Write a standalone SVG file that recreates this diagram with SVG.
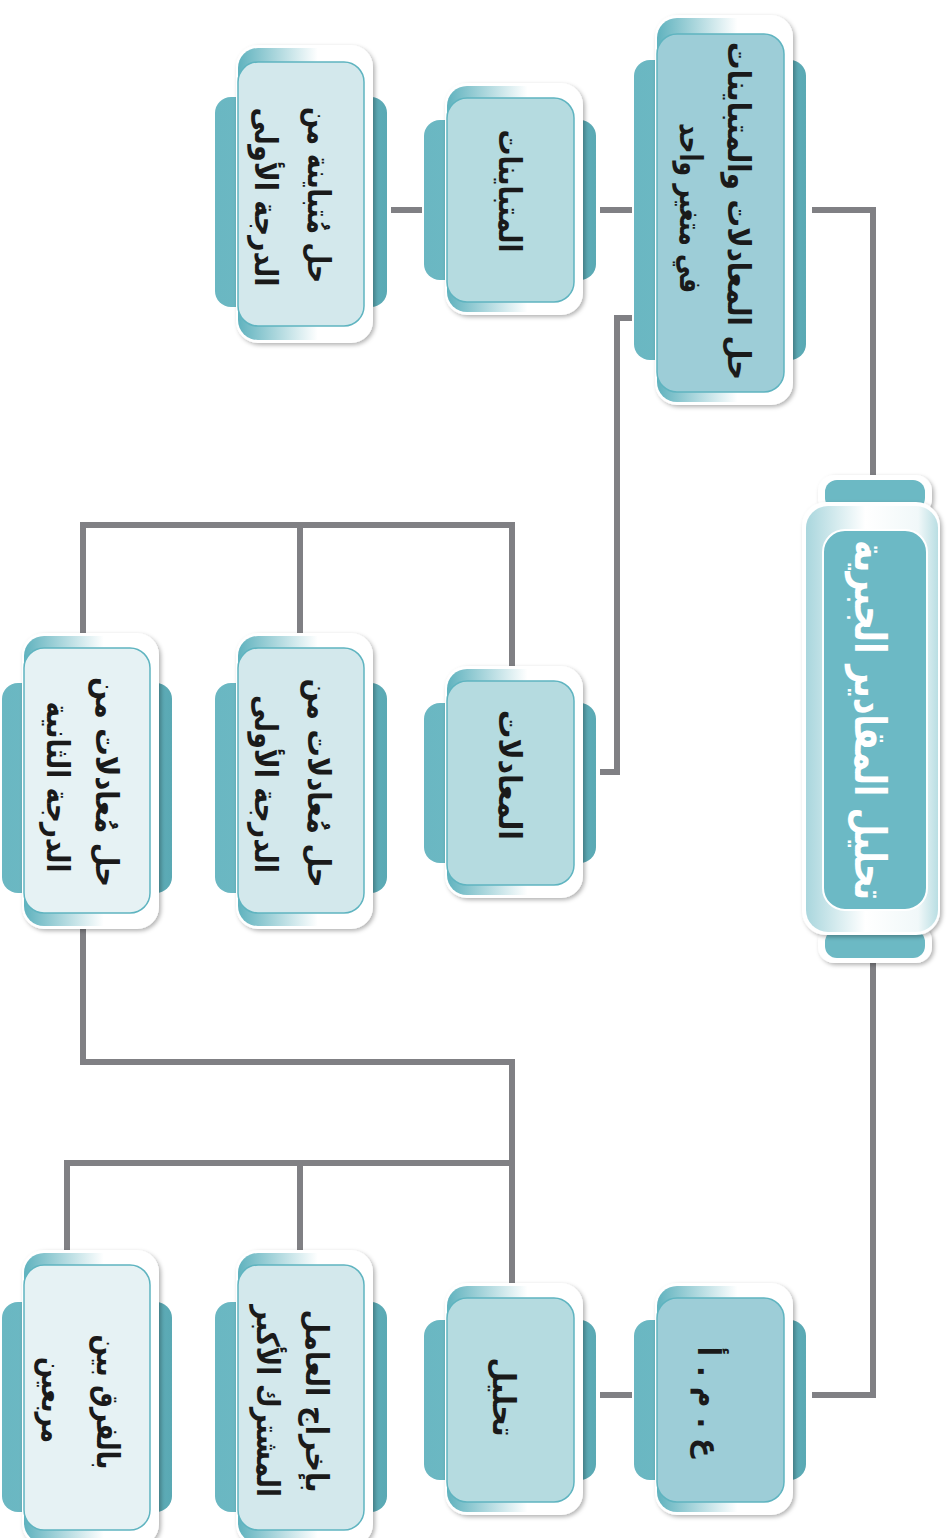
<svg xmlns="http://www.w3.org/2000/svg" width="951" height="1538" viewBox="0 0 951 1538">
<defs>
<linearGradient id="frame" x1="0" y1="0" x2="1" y2="0">
<stop offset="0" stop-color="#5fb2be"/>
<stop offset="0.6" stop-color="#ffffff"/>
<stop offset="1" stop-color="#ffffff"/>
</linearGradient>
<linearGradient id="tab" x1="0" y1="0" x2="1" y2="0">
<stop offset="0" stop-color="#6ab7c2"/>
<stop offset="0.5" stop-color="#6fbac4"/>
<stop offset="1" stop-color="#5aa9b4"/>
</linearGradient>
<linearGradient id="rootbody" x1="0" y1="0" x2="1" y2="0">
<stop offset="0" stop-color="#a9d6dd"/>
<stop offset="0.45" stop-color="#ffffff"/>
<stop offset="0.85" stop-color="#f1f8f9"/>
<stop offset="1" stop-color="#b9dee3"/>
</linearGradient>
<filter id="sh" x="-20%" y="-20%" width="140%" height="140%">
<feDropShadow dx="2" dy="2" stdDeviation="2" flood-color="#000" flood-opacity="0.3"/>
</filter>
</defs>
<style>
.tab{fill:url(#tab)}
.outer{fill:#ffffff;filter:url(#sh)}
.frame{fill:url(#frame)}
.in{stroke:#5fb4c0;stroke-width:1.5}
.l2{fill:#9dcdd7}
.l3{fill:#b5dbe0}
.l4{fill:#d3e8ec}
.l5{fill:#e6f2f4}
.t{font-family:"DejaVu Sans",sans-serif;font-weight:bold;font-size:31px;fill:#1a1a1a;text-anchor:middle}
.rt{font-family:"DejaVu Sans",sans-serif;font-weight:bold;font-size:44px;fill:#ffffff;text-anchor:middle}
.c{fill:none;stroke:#808084;stroke-width:6}
</style>
<rect width="951" height="1538" fill="#ffffff"/>
<g id="connectors">
<path class="c" d="M812 210 H873 V478"/>
<path class="c" d="M873 960 V1395 H812"/>
<path class="c" d="M600 210 H632"/>
<path class="c" d="M391 210 H422"/>
<path class="c" d="M632 318 H617 V772 H600"/>
<path class="c" d="M512 668 V525 M83 635 V525 H515 M300 525 V635"/>
<path class="c" d="M83 926 V1062 H512 V1285"/>
<path class="c" d="M512 1163 H67 V1252 M300 1163 V1252"/>
<path class="c" d="M600 1395 H632"/>
</g>
<g id="root">
<rect x="818" y="475" width="114" height="40" rx="16" class="outer"/>
<rect x="825" y="480" width="100" height="30" rx="12" fill="#6cb9c4"/>
<rect x="818" y="925" width="114" height="38" rx="16" class="outer"/>
<rect x="825" y="930" width="100" height="28" rx="12" fill="#6cb9c4"/>
<rect x="802" y="502" width="138" height="433" rx="24" class="outer"/>
<rect x="806" y="506" width="132" height="426" rx="22" fill="url(#rootbody)"/>
<rect x="823" y="530" width="104" height="380" rx="22" fill="#6cb9c5" stroke="#ffffff" stroke-width="2"/>
<text class="rt" transform="translate(855 720) rotate(90)" textLength="360" lengthAdjust="spacingAndGlyphs">تحليل المقادير الجبرية</text>
</g>
<g id="n-main">
<rect x="634" y="60" width="172" height="300" rx="16" class="tab"/>
<rect x="655" y="15" width="138" height="390" rx="22" class="outer"/>
<rect x="657" y="18" width="134" height="384" rx="20" class="frame"/>
<rect x="657" y="34" width="127" height="358" rx="20" class="in l2"/>
<text class="t" transform="translate(728 211) rotate(90)" textLength="338" lengthAdjust="spacingAndGlyphs">حل المعادلات والمتباينات</text>
<text class="t" transform="translate(680 208) rotate(90)" textLength="170" lengthAdjust="spacingAndGlyphs">في متغير واحد</text>
</g>
<g id="n-gcf">
<rect x="634" y="1320" width="172" height="160" rx="16" class="tab"/>
<rect x="655" y="1283" width="138" height="232" rx="22" class="outer"/>
<rect x="657" y="1286" width="134" height="226" rx="20" class="frame"/>
<rect x="657" y="1298" width="127" height="204" rx="20" class="in l2"/>
<text class="t" transform="translate(698 1402) rotate(90)" font-size="34" textLength="111" lengthAdjust="spacingAndGlyphs">ع . م . أ</text>
</g>
<g id="n-ineq">
<rect x="424" y="120" width="172" height="160" rx="16" class="tab"/>
<rect x="445" y="83" width="138" height="232" rx="22" class="outer"/>
<rect x="447" y="86" width="134" height="226" rx="20" class="frame"/>
<rect x="447" y="98" width="127" height="204" rx="20" class="in l3"/>
<text class="t" transform="translate(499 191) rotate(90)" textLength="123" lengthAdjust="spacingAndGlyphs">المتباينات</text>
</g>
<g id="n-eq">
<rect x="424" y="703" width="172" height="160" rx="16" class="tab"/>
<rect x="445" y="666" width="138" height="232" rx="22" class="outer"/>
<rect x="447" y="669" width="134" height="226" rx="20" class="frame"/>
<rect x="447" y="681" width="127" height="204" rx="20" class="in l3"/>
<text class="t" transform="translate(499 775) rotate(90)" textLength="130" lengthAdjust="spacingAndGlyphs">المعادلات</text>
</g>
<g id="n-fact">
<rect x="424" y="1320" width="172" height="160" rx="16" class="tab"/>
<rect x="445" y="1283" width="138" height="232" rx="22" class="outer"/>
<rect x="447" y="1286" width="134" height="226" rx="20" class="frame"/>
<rect x="447" y="1298" width="127" height="204" rx="20" class="in l3"/>
<text class="t" transform="translate(493 1397) rotate(90)" textLength="79" lengthAdjust="spacingAndGlyphs">تحليل</text>
</g>
<g id="n-ineq1">
<rect x="215" y="97" width="172" height="210" rx="16" class="tab"/>
<rect x="236" y="45" width="137" height="298" rx="22" class="outer"/>
<rect x="238" y="48" width="133" height="292" rx="20" class="frame"/>
<rect x="238" y="62" width="126" height="264" rx="20" class="in l4"/>
<text class="t" transform="translate(308 195) rotate(90)" textLength="176" lengthAdjust="spacingAndGlyphs">حل مُتباينة من</text>
<text class="t" transform="translate(255 197) rotate(90)" textLength="179" lengthAdjust="spacingAndGlyphs">الدرجة الأولى</text>
</g>
<g id="n-eq1">
<rect x="215" y="683" width="172" height="210" rx="16" class="tab"/>
<rect x="236" y="633" width="137" height="296" rx="22" class="outer"/>
<rect x="238" y="636" width="133" height="290" rx="20" class="frame"/>
<rect x="238" y="648" width="126" height="265" rx="20" class="in l4"/>
<text class="t" transform="translate(308 783) rotate(90)" textLength="209" lengthAdjust="spacingAndGlyphs">حل مُعادلات من</text>
<text class="t" transform="translate(255 784) rotate(90)" textLength="178" lengthAdjust="spacingAndGlyphs">الدرجة الأولى</text>
</g>
<g id="n-eq2">
<rect x="2" y="683" width="170" height="210" rx="16" class="tab"/>
<rect x="22" y="633" width="137" height="296" rx="22" class="outer"/>
<rect x="24" y="636" width="133" height="290" rx="20" class="frame"/>
<rect x="24" y="648" width="126" height="265" rx="20" class="in l5"/>
<text class="t" transform="translate(96 782) rotate(90)" textLength="210" lengthAdjust="spacingAndGlyphs">حل مُعادلات من</text>
<text class="t" transform="translate(47 787) rotate(90)" textLength="171" lengthAdjust="spacingAndGlyphs">الدرجة الثانية</text>
</g>
<g id="n-gcf2">
<rect x="215" y="1302" width="172" height="210" rx="16" class="tab"/>
<rect x="236" y="1250" width="137" height="296" rx="22" class="outer"/>
<rect x="238" y="1253" width="133" height="290" rx="20" class="frame"/>
<rect x="238" y="1265" width="126" height="265" rx="20" class="in l4"/>
<text class="t" transform="translate(306 1401) rotate(90)" textLength="183" lengthAdjust="spacingAndGlyphs">بإخراج العامل</text>
<text class="t" transform="translate(257 1401) rotate(90)" textLength="192" lengthAdjust="spacingAndGlyphs">المشترك الأكبر</text>
</g>
<g id="n-diff">
<rect x="2" y="1302" width="170" height="210" rx="16" class="tab"/>
<rect x="22" y="1250" width="137" height="296" rx="22" class="outer"/>
<rect x="24" y="1253" width="133" height="290" rx="20" class="frame"/>
<rect x="24" y="1265" width="126" height="265" rx="20" class="in l5"/>
<text class="t" transform="translate(97 1402) rotate(90)" textLength="135" lengthAdjust="spacingAndGlyphs">بالفرق بين</text>
<text class="t" transform="translate(42 1400) rotate(90)" textLength="86" lengthAdjust="spacingAndGlyphs">مربعين</text>
</g>
</svg>
